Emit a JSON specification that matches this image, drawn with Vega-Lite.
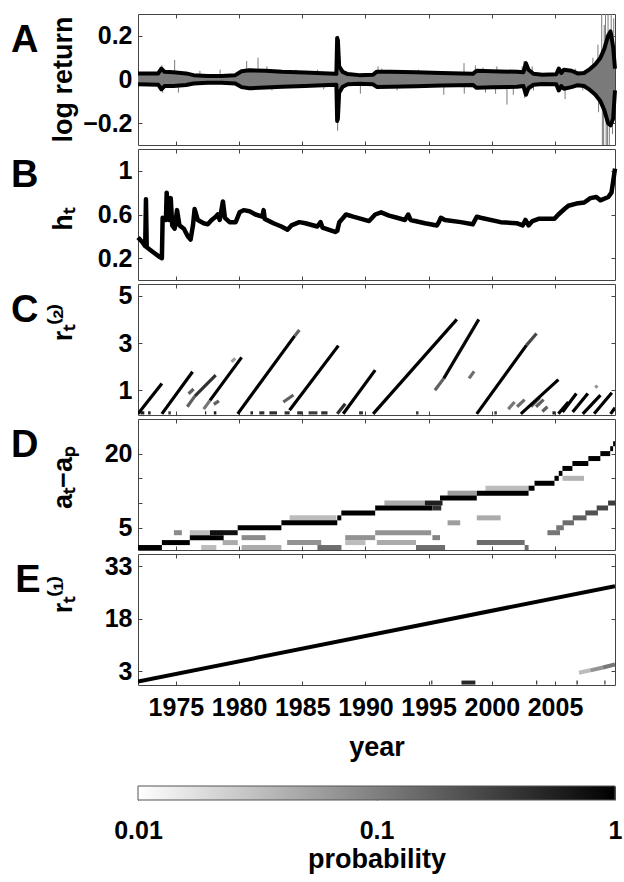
{
"$schema": "https://vega.github.io/schema/vega-lite/v6.json",
"background": "white",
"padding": {"left": 10, "top": 13, "right": 5, "bottom": 5},
"config": {
  "view": {"stroke": "#444", "strokeWidth": 1},
  "axis": {"grid": false, "domain": false, "tickColor": "#444", "tickSize": -4, "labelFont": "Liberation Sans", "labelFontSize": 25, "labelFontWeight": "bold", "labelColor": "black", "titleFont": "Liberation Sans", "titleFontSize": 27, "titleFontWeight": "bold", "titleColor": "black", "labelFlush": false, "minExtent": 0},
  "axisY": {"labelPadding": 10, "titleX": -75, "titleBaseline": "middle", "titleAlign": "center", "titleAngle": -90, "labelExpr": "replace('' + datum.value, '-', '−')"},
  "title": {"font": "Liberation Sans", "fontSize": 38, "fontWeight": "bold", "orient": "left", "anchor": "end", "angle": 0, "baseline": "top", "align": "left", "offset": -17, "dy": 8, "color": "black"}
},
"datasets": {
  "envA": [
    {"t":1972.0,"up":0.027,"lo":-0.022},{"t":1973.6,"up":0.028,"lo":-0.024},{"t":1973.85,"up":0.05,"lo":-0.045},{"t":1974.1,"up":0.035,"lo":-0.03},{"t":1974.8,"up":0.033,"lo":-0.03},{"t":1975.8,"up":0.028,"lo":-0.025},{"t":1976.4,"up":0.02,"lo":-0.018},{"t":1977.5,"up":0.016,"lo":-0.015},{"t":1978.6,"up":0.016,"lo":-0.015},{"t":1979.7,"up":0.02,"lo":-0.018},{"t":1980.2,"up":0.038,"lo":-0.035},{"t":1980.8,"up":0.042,"lo":-0.04},{"t":1982.1,"up":0.04,"lo":-0.037},{"t":1983.4,"up":0.035,"lo":-0.033},{"t":1985.2,"up":0.032,"lo":-0.03},{"t":1987.1,"up":0.027,"lo":-0.025},{"t":1987.7,"up":0.026,"lo":-0.024},{"t":1987.76,"up":0.19,"lo":-0.19},{"t":1987.82,"up":0.18,"lo":-0.18},{"t":1987.92,"up":0.06,"lo":-0.06},{"t":1988.2,"up":0.035,"lo":-0.033},{"t":1988.6,"up":0.025,"lo":-0.022},{"t":1989.5,"up":0.02,"lo":-0.02},{"t":1990.6,"up":0.022,"lo":-0.022},{"t":1990.9,"up":0.036,"lo":-0.034},{"t":1992.0,"up":0.035,"lo":-0.033},{"t":1994.0,"up":0.033,"lo":-0.031},{"t":1996.0,"up":0.03,"lo":-0.028},{"t":1998.5,"up":0.026,"lo":-0.025},{"t":1998.8,"up":0.04,"lo":-0.038},{"t":2000.0,"up":0.038,"lo":-0.036},{"t":2002.0,"up":0.035,"lo":-0.033},{"t":2002.5,"up":0.033,"lo":-0.03},{"t":2002.7,"up":0.075,"lo":-0.07},{"t":2002.9,"up":0.045,"lo":-0.04},{"t":2003.3,"up":0.026,"lo":-0.024},{"t":2004.0,"up":0.022,"lo":-0.021},{"t":2005.1,"up":0.024,"lo":-0.022},{"t":2005.3,"up":0.05,"lo":-0.05},{"t":2005.5,"up":0.03,"lo":-0.03},{"t":2005.7,"up":0.045,"lo":-0.042},{"t":2006.3,"up":0.04,"lo":-0.035},{"t":2006.8,"up":0.028,"lo":-0.026},{"t":2007.3,"up":0.03,"lo":-0.03},{"t":2007.7,"up":0.045,"lo":-0.045},{"t":2008.2,"up":0.07,"lo":-0.07},{"t":2008.6,"up":0.1,"lo":-0.1},{"t":2008.9,"up":0.14,"lo":-0.14},{"t":2009.2,"up":0.2,"lo":-0.2},{"t":2009.4,"up":0.22,"lo":-0.21},{"t":2009.6,"up":0.15,"lo":-0.18},{"t":2009.75,"up":0.05,"lo":-0.05}
  ],
  "spkA": [
    {"t":1973.9,"r":0.065},{"t":1973.95,"r":-0.06},{"t":1974.9,"r":0.09},{"t":1975.2,"r":-0.06},{"t":1976.9,"r":0.04},{"t":1978.5,"r":0.045},{"t":1980.6,"r":0.085},{"t":1981.0,"r":-0.05},{"t":1981.5,"r":0.1},{"t":1982.2,"r":0.06},{"t":1982.6,"r":-0.05},{"t":1984.5,"r":0.045},{"t":1986.2,"r":0.045},{"t":1986.7,"r":-0.045},{"t":1987.8,"r":-0.235},{"t":1987.85,"r":0.2},{"t":1989.6,"r":-0.065},{"t":1991.0,"r":0.06},{"t":1991.3,"r":0.05},{"t":1992.5,"r":-0.05},{"t":1994.2,"r":0.045},{"t":1996.2,"r":-0.07},{"t":1997.8,"r":0.075},{"t":1997.82,"r":-0.065},{"t":1998.7,"r":0.065},{"t":1999.3,"r":0.055},{"t":1999.5,"r":-0.06},{"t":2000.3,"r":-0.065},{"t":2000.4,"r":0.06},{"t":2001.2,"r":-0.115},{"t":2001.7,"r":-0.07},{"t":2002.4,"r":0.06},{"t":2002.55,"r":0.085},{"t":2002.6,"r":-0.085},{"t":2003.2,"r":0.06},{"t":2003.3,"r":-0.05},{"t":2005.8,"r":-0.09},{"t":2006.6,"r":0.05},{"t":2007.2,"r":-0.05},{"t":2008.0,"r":0.1},{"t":2008.4,"r":0.16},{"t":2008.45,"r":-0.15},{"t":2008.7,"r":0.3},{"t":2008.75,"r":-0.3},{"t":2008.85,"r":-0.3},{"t":2008.9,"r":0.25},{"t":2009.0,"r":0.3},{"t":2009.05,"r":-0.3},{"t":2009.15,"r":-0.3},{"t":2009.2,"r":0.3},{"t":2009.3,"r":-0.3},{"t":2009.45,"r":0.3},{"t":2009.55,"r":-0.25},{"t":2009.65,"r":0.28}
  ],
  "hB": [
    {"t":1972.0,"h":0.39},{"t":1972.32,"h":0.35},{"t":1972.57,"h":0.31},{"t":1972.63,"h":0.74},{"t":1972.69,"h":0.3},{"t":1973.26,"h":0.25},{"t":1973.73,"h":0.21},{"t":1973.89,"h":0.2},{"t":1973.95,"h":0.57},{"t":1974.21,"h":0.55},{"t":1974.27,"h":0.8},{"t":1974.46,"h":0.55},{"t":1974.59,"h":0.75},{"t":1974.71,"h":0.5},{"t":1974.9,"h":0.47},{"t":1975.09,"h":0.64},{"t":1975.28,"h":0.5},{"t":1975.63,"h":0.47},{"t":1975.94,"h":0.4},{"t":1976.16,"h":0.37},{"t":1976.35,"h":0.5},{"t":1976.48,"h":0.65},{"t":1976.73,"h":0.55},{"t":1977.2,"h":0.52},{"t":1977.52,"h":0.51},{"t":1977.83,"h":0.55},{"t":1978.15,"h":0.58},{"t":1978.31,"h":0.6},{"t":1978.47,"h":0.55},{"t":1978.72,"h":0.72},{"t":1978.88,"h":0.57},{"t":1979.25,"h":0.53},{"t":1979.73,"h":0.53},{"t":1980.04,"h":0.62},{"t":1980.36,"h":0.64},{"t":1980.83,"h":0.63},{"t":1981.3,"h":0.6},{"t":1981.84,"h":0.58},{"t":1981.94,"h":0.64},{"t":1982.03,"h":0.56},{"t":1982.72,"h":0.52},{"t":1983.35,"h":0.49},{"t":1983.83,"h":0.46},{"t":1984.14,"h":0.5},{"t":1984.77,"h":0.53},{"t":1985.25,"h":0.52},{"t":1986.19,"h":0.49},{"t":1986.45,"h":0.53},{"t":1986.6,"h":0.48},{"t":1987.61,"h":0.44},{"t":1987.77,"h":0.45},{"t":1987.93,"h":0.53},{"t":1988.24,"h":0.57},{"t":1988.46,"h":0.6},{"t":1989.03,"h":0.58},{"t":1990.29,"h":0.54},{"t":1990.77,"h":0.6},{"t":1991.24,"h":0.62},{"t":1991.87,"h":0.59},{"t":1992.5,"h":0.57},{"t":1993.13,"h":0.55},{"t":1993.39,"h":0.6},{"t":1993.57,"h":0.55},{"t":1994.71,"h":0.52},{"t":1995.66,"h":0.5},{"t":1995.81,"h":0.53},{"t":1995.97,"h":0.57},{"t":1996.29,"h":0.55},{"t":1997.55,"h":0.53},{"t":1998.49,"h":0.51},{"t":1998.81,"h":0.58},{"t":1999.12,"h":0.57},{"t":2000.7,"h":0.53},{"t":2001.96,"h":0.52},{"t":2002.44,"h":0.5},{"t":2002.66,"h":0.55},{"t":2002.91,"h":0.5},{"t":2003.22,"h":0.54},{"t":2003.7,"h":0.56},{"t":2004.96,"h":0.56},{"t":2005.27,"h":0.6},{"t":2005.75,"h":0.65},{"t":2006.06,"h":0.68},{"t":2006.69,"h":0.7},{"t":2007.32,"h":0.71},{"t":2007.8,"h":0.75},{"t":2008.27,"h":0.76},{"t":2008.59,"h":0.73},{"t":2009.22,"h":0.76},{"t":2009.47,"h":0.8},{"t":2009.6,"h":0.9},{"t":2009.75,"h":1.02}
  ],
  "segC": [
    {"t0":1972.2,"v0":0.04,"t1":1972.5,"v1":0.04,"p":0.6},{"t0":1972.8,"v0":0.04,"t1":1973.0,"v1":0.04,"p":0.5},{"t0":1974.4,"v0":0.04,"t1":1974.6,"v1":0.04,"p":0.3},{"t0":1977.3,"v0":0.04,"t1":1977.4,"v1":0.04,"p":0.5},{"t0":1978.0,"v0":0.04,"t1":1978.2,"v1":0.04,"p":0.6},{"t0":1980.9,"v0":0.04,"t1":1981.1,"v1":0.04,"p":0.5},{"t0":1981.6,"v0":0.04,"t1":1982.0,"v1":0.04,"p":0.4},{"t0":1982.4,"v0":0.04,"t1":1983.0,"v1":0.04,"p":0.4},{"t0":1983.6,"v0":0.04,"t1":1984.0,"v1":0.04,"p":0.4},{"t0":1984.6,"v0":0.04,"t1":1985.0,"v1":0.04,"p":0.4},{"t0":1985.5,"v0":0.04,"t1":1986.2,"v1":0.04,"p":0.3},{"t0":1986.5,"v0":0.04,"t1":1987.0,"v1":0.04,"p":0.4},{"t0":1989.5,"v0":0.04,"t1":1989.8,"v1":0.04,"p":0.4},{"t0":1994.0,"v0":0.04,"t1":1994.2,"v1":0.04,"p":0.3},{"t0":2000.2,"v0":0.04,"t1":2000.4,"v1":0.04,"p":0.3},{"t0":2004.8,"v0":0.04,"t1":2005.0,"v1":0.04,"p":0.5},
    {"t0":1976.0,"v0":0.85,"t1":1976.4,"v1":1.05,"p":0.15},{"t0":1978.0,"v0":0.4,"t1":1978.4,"v1":0.55,"p":0.15},{"t0":1979.4,"v0":2.2,"t1":1979.7,"v1":2.35,"p":0.05},{"t0":1983.5,"v0":0.5,"t1":1984.3,"v1":0.8,"p":0.15},{"t0":1998.2,"v0":1.5,"t1":1998.6,"v1":1.8,"p":0.12},{"t0":2001.3,"v0":0.2,"t1":2001.8,"v1":0.5,"p":0.1},{"t0":2002.0,"v0":0.3,"t1":2002.6,"v1":0.6,"p":0.12},{"t0":2003.1,"v0":0.3,"t1":2003.8,"v1":0.7,"p":0.15},{"t0":2003.5,"v0":0.3,"t1":2004.1,"v1":0.6,"p":0.15},{"t0":2004.0,"v0":0.1,"t1":2004.4,"v1":0.3,"p":0.15},{"t0":2008.2,"v0":1.1,"t1":2008.35,"v1":1.2,"p":0.06},
    {"t0":1972.0,"v0":0.0,"t1":1973.89,"v1":1.28,"p":1},{"t0":1973.89,"v0":0.0,"t1":1976.32,"v1":1.78,"p":1},{"t0":1975.9,"v0":0.3,"t1":1976.5,"v1":0.75,"p":0.15},{"t0":1976.5,"v0":0.75,"t1":1978.15,"v1":1.64,"p":0.4},{"t0":1977.2,"v0":0.2,"t1":1977.7,"v1":0.57,"p":0.1},{"t0":1977.7,"v0":0.57,"t1":1980.2,"v1":2.39,"p":1},{"t0":1979.89,"v0":0.0,"t1":1984.4,"v1":3.3,"p":1},{"t0":1984.4,"v0":3.3,"t1":1984.77,"v1":3.55,"p":0.15},{"t0":1983.99,"v0":0.15,"t1":1987.86,"v1":2.89,"p":1},{"t0":1987.77,"v0":0.0,"t1":1988.4,"v1":0.43,"p":0.4},{"t0":1988.24,"v0":0.0,"t1":1990.77,"v1":1.85,"p":1},{"t0":1990.61,"v0":0.0,"t1":1997.23,"v1":4.0,"p":1},{"t0":1995.5,"v0":1.0,"t1":1996.2,"v1":1.5,"p":0.15},{"t0":1996.2,"v0":1.5,"t1":1998.97,"v1":4.0,"p":0.9},{"t0":1998.81,"v0":0.0,"t1":2002.75,"v1":2.91,"p":1},{"t0":2002.75,"v0":2.91,"t1":2003.54,"v1":3.4,"p":0.25},{"t0":2002.3,"v0":0.0,"t1":2005.27,"v1":1.45,"p":1},{"t0":2005.27,"v0":0.0,"t1":2006.06,"v1":0.5,"p":1},{"t0":2005.6,"v0":0.08,"t1":2006.69,"v1":0.86,"p":1},{"t0":2006.4,"v0":0.08,"t1":2007.6,"v1":0.86,"p":1},{"t0":2007.2,"v0":0.0,"t1":2008.6,"v1":0.79,"p":1},{"t0":2008.1,"v0":0.0,"t1":2009.5,"v1":0.89,"p":1},{"t0":2009.4,"v0":0.0,"t1":2009.75,"v1":0.26,"p":1}
  ],
  "cellD": [
    {"t0":1976.1,"t1":1977.7,"v":4,"p":0.03},{"t0":1984.0,"t1":1987.7,"v":7,"p":0.03},{"t0":1991.5,"t1":1994.7,"v":10,"p":0.04},{"t0":1996.5,"t1":1998.8,"v":12,"p":0.05},{"t0":1999.5,"t1":2002.9,"v":13,"p":0.03},
    {"t0":1974.84,"t1":1975.47,"v":4,"p":0.07},{"t0":1977.0,"t1":1978.2,"v":1,"p":0.03},{"t0":1978.7,"t1":1979.9,"v":2,"p":0.04},{"t0":1980.2,"t1":1982.1,"v":3,"p":0.07},{"t0":1980.2,"t1":1983.35,"v":1,"p":0.04},{"t0":1983.8,"t1":1986.5,"v":2,"p":0.06},{"t0":1986.2,"t1":1988.1,"v":1,"p":0.12},{"t0":1988.4,"t1":1990.77,"v":3,"p":0.06},{"t0":1988.4,"t1":1990.0,"v":2,"p":0.03},{"t0":1990.77,"t1":1995.2,"v":4,"p":0.06},{"t0":1990.9,"t1":1994.0,"v":2,"p":0.04},{"t0":1994.0,"t1":1996.3,"v":1,"p":0.12},{"t0":1995.3,"t1":1995.9,"v":3,"p":0.08},{"t0":1996.5,"t1":1997.5,"v":6,"p":0.05},{"t0":1998.81,"t1":2000.7,"v":7,"p":0.04},{"t0":1998.81,"t1":2002.6,"v":2,"p":0.12},{"t0":2002.6,"t1":2002.91,"v":1,"p":0.12},{"t0":2004.4,"t1":2005.4,"v":4,"p":0.1},{"t0":2005.1,"t1":2005.7,"v":5,"p":0.1},{"t0":2005.6,"t1":2006.5,"v":6,"p":0.12},{"t0":2006.4,"t1":2007.5,"v":7,"p":0.15},{"t0":2007.4,"t1":2008.4,"v":8,"p":0.2},{"t0":2008.3,"t1":2009.2,"v":9,"p":0.25},{"t0":2009.2,"t1":2009.75,"v":10,"p":0.3},{"t0":2005.6,"t1":2007.3,"v":15,"p":0.035},
    {"t0":1972.0,"t1":1973.89,"v":1,"p":1},{"t0":1973.89,"t1":1976.1,"v":2,"p":1},{"t0":1976.1,"t1":1978.78,"v":3,"p":1},{"t0":1977.7,"t1":1979.89,"v":4,"p":0.8},{"t0":1979.89,"t1":1983.35,"v":5,"p":1},{"t0":1983.35,"t1":1987.77,"v":6,"p":1},{"t0":1987.77,"t1":1988.09,"v":7,"p":1},{"t0":1988.09,"t1":1990.77,"v":8,"p":1},{"t0":1990.77,"t1":1995.3,"v":9,"p":1},{"t0":1994.7,"t1":1996.1,"v":10,"p":0.6},{"t0":1995.3,"t1":1996.0,"v":9,"p":0.4},{"t0":1995.9,"t1":1998.81,"v":11,"p":1},{"t0":1998.81,"t1":2002.91,"v":12,"p":1},{"t0":2002.91,"t1":2003.38,"v":13,"p":1},{"t0":2003.38,"t1":2004.96,"v":14,"p":1},{"t0":2004.96,"t1":2005.3,"v":15,"p":1},{"t0":2005.3,"t1":2005.59,"v":16,"p":1},{"t0":2005.59,"t1":2006.38,"v":17,"p":1},{"t0":2006.38,"t1":2007.64,"v":18,"p":1},{"t0":2007.64,"t1":2008.59,"v":19,"p":1},{"t0":2008.59,"t1":2009.37,"v":20,"p":1},{"t0":2009.37,"t1":2009.6,"v":21,"p":1},{"t0":2009.6,"t1":2009.75,"v":22,"p":1}
  ],
  "segE": [
    {"t0":1995.2,"v0":-0.3,"t1":1995.3,"v1":-0.3,"p":0.3},{"t0":1997.6,"v0":-0.3,"t1":1998.7,"v1":-0.3,"p":0.5},{"t0":2003.5,"v0":-0.3,"t1":2003.6,"v1":-0.3,"p":0.3},{"t0":2006.7,"v0":-0.3,"t1":2006.8,"v1":-0.3,"p":0.5},{"t0":2008.9,"v0":-0.3,"t1":2009.0,"v1":-0.3,"p":0.3},
    {"t0":2006.9,"v0":2.5,"t1":2007.8,"v1":3.2,"p":0.03},{"t0":2007.8,"v0":3.2,"t1":2008.8,"v1":4.0,"p":0.06},{"t0":2008.8,"v0":4.0,"t1":2009.75,"v1":4.9,"p":0.1},
    {"t0":1972.0,"v0":0.0,"t1":2009.75,"v1":27.3,"p":1}
  ],
  "bar": [{"lo": 0.01, "hi": 1}]
},
"spacing": 24,
"vconcat": [
  {
    "spacing": 2,
    "vconcat": [
      {
        "width": 477, "height": 131,
        "title": {"text": "A"},
        "resolve": {"axis": {"x": "independent", "y": "independent"}},
        "layer": [
          {
            "encoding": {"x": {"field": "t", "type": "quantitative", "scale": {"domain": [1972, 2009.75], "nice": false, "zero": false}, "axis": {"values": [1975,1980,1985,1990,1995,2000,2005], "labels": false, "title": null}}},
            "layer": [
              {"data": {"name": "spkA"}, "mark": {"type": "rule", "color": "#7a7a7a", "strokeWidth": 1, "clip": true},
               "encoding": {"y": {"field": "r", "type": "quantitative", "scale": {"domain": [-0.3, 0.3], "nice": false}, "axis": {"values": [-0.2, 0, 0.2], "title": "log return", "titleY": 65}}, "y2": {"datum": 0}}},
              {"data": {"name": "envA"}, "mark": {"type": "area", "color": "#7a7a7a"},
               "encoding": {"y": {"field": "up", "type": "quantitative", "axis": {"values": [-0.2, 0, 0.2], "title": "log return", "titleY": 65}}, "y2": {"field": "lo"}}},
              {"data": {"name": "envA"}, "mark": {"type": "line", "color": "black", "strokeWidth": 4, "strokeJoin": "round"},
               "encoding": {"y": {"field": "up", "type": "quantitative", "axis": {"values": [-0.2, 0, 0.2], "title": "log return", "titleY": 65}}}},
              {"data": {"name": "envA"}, "mark": {"type": "line", "color": "black", "strokeWidth": 4, "strokeJoin": "round"},
               "encoding": {"y": {"field": "lo", "type": "quantitative", "axis": {"values": [-0.2, 0, 0.2], "title": "log return", "titleY": 65}}}}
            ]
          },
          {"data": {"name": "envA"}, "mark": {"type": "line", "opacity": 0},
           "encoding": {"x": {"field": "t", "type": "quantitative", "axis": {"orient": "top", "values": [1975,1980,1985,1990,1995,2000,2005], "labels": false, "title": null}},
                        "y": {"field": "up", "type": "quantitative", "axis": {"orient": "right", "values": [-0.2, 0, 0.2], "labels": false, "title": null}}}}
        ]
      },
      {
        "width": 477, "height": 131,
        "title": {"text": "B"},
        "data": {"name": "hB"},
        "resolve": {"axis": {"x": "independent", "y": "independent"}},
        "layer": [
          {"mark": {"type": "line", "color": "black", "strokeWidth": 4.5, "strokeJoin": "round"},
           "encoding": {
             "x": {"field": "t", "type": "quantitative", "scale": {"domain": [1972, 2009.75], "nice": false, "zero": false}, "axis": {"values": [1975,1980,1985,1990,1995,2000,2005], "labels": false, "title": null}},
             "y": {"field": "h", "type": "quantitative", "scale": {"domain": [0, 1.2], "nice": false}, "axis": {"values": [0.2, 0.6, 1], "title": "hₜ", "titleY": 70}}}},
          {"mark": {"type": "line", "opacity": 0},
           "encoding": {
             "x": {"field": "t", "type": "quantitative", "axis": {"orient": "top", "values": [1975,1980,1985,1990,1995,2000,2005], "labels": false, "title": null}},
             "y": {"field": "h", "type": "quantitative", "axis": {"orient": "right", "values": [0.2, 0.6, 1], "labels": false, "title": null}}}}
        ]
      },
      {
        "width": 477, "height": 131,
        "title": {"text": "C"},
        "data": {"name": "segC"},
        "resolve": {"axis": {"x": "independent", "y": "independent"}},
        "layer": [
          {"mark": {"type": "rule", "strokeWidth": 3.2, "strokeCap": "butt", "clip": true},
           "encoding": {
             "x": {"field": "t0", "type": "quantitative", "scale": {"domain": [1972, 2009.75], "nice": false, "zero": false}, "axis": {"values": [1975,1980,1985,1990,1995,2000,2005], "labels": false, "title": null}},
             "x2": {"field": "t1"},
             "y": {"field": "v0", "type": "quantitative", "scale": {"domain": [-0.05, 5.5], "nice": false, "zero": false}, "axis": {"values": [1, 3, 5], "title": "rₜ⁽²⁾", "titleY": 38}},
             "y2": {"field": "v1"},
             "color": {"field": "p", "type": "quantitative", "scale": {"type": "log", "domain": [0.01, 1], "range": ["#ffffff", "#000000"], "clamp": true}, "legend": null}}},
          {"mark": {"type": "rule", "opacity": 0},
           "encoding": {
             "x": {"field": "t0", "type": "quantitative", "axis": {"orient": "top", "values": [1975,1980,1985,1990,1995,2000,2005], "labels": false, "title": null}},
             "y": {"field": "v0", "type": "quantitative", "axis": {"orient": "right", "values": [1, 3, 5], "labels": false, "title": null}}}}
        ]
      },
      {
        "width": 477, "height": 131,
        "title": {"text": "D"},
        "data": {"name": "cellD"},
        "resolve": {"axis": {"x": "independent", "y": "independent"}},
        "layer": [
          {"mark": {"type": "rule", "strokeWidth": 5, "strokeCap": "butt", "clip": true},
           "encoding": {
             "x": {"field": "t0", "type": "quantitative", "scale": {"domain": [1972, 2009.75], "nice": false, "zero": false}, "axis": {"values": [1975,1980,1985,1990,1995,2000,2005], "labels": false, "title": null}},
             "x2": {"field": "t1"},
             "y": {"field": "v", "type": "quantitative", "scale": {"domain": [0.5, 27], "nice": false, "zero": false}, "axis": {"values": [5, 10, 15, 20], "title": "aₜ−aₚ", "titleY": 58}},
             "color": {"field": "p", "type": "quantitative", "scale": {"type": "log", "domain": [0.01, 1], "range": ["#ffffff", "#000000"], "clamp": true}, "legend": null}}},
          {"mark": {"type": "rule", "opacity": 0},
           "encoding": {
             "x": {"field": "t0", "type": "quantitative", "axis": {"orient": "top", "values": [1975,1980,1985,1990,1995,2000,2005], "labels": false, "title": null}},
             "y": {"field": "v", "type": "quantitative", "axis": {"orient": "right", "values": [5, 10, 15, 20], "labels": false, "title": null}}}}
        ]
      },
      {
        "width": 477, "height": 131,
        "title": {"text": "E"},
        "data": {"name": "segE"},
        "resolve": {"axis": {"x": "independent", "y": "independent"}},
        "layer": [
          {"mark": {"type": "rule", "strokeWidth": 4, "strokeCap": "butt", "clip": true},
           "encoding": {
             "x": {"field": "t0", "type": "quantitative", "scale": {"domain": [1972, 2009.75], "nice": false, "zero": false}, "axis": {"values": [1975,1980,1985,1990,1995,2000,2005], "format": "d", "title": "year", "labelPadding": 14, "titlePadding": 14}},
             "x2": {"field": "t1"},
             "y": {"field": "v0", "type": "quantitative", "scale": {"domain": [-1, 36.5], "nice": false, "zero": false}, "axis": {"values": [3, 18, 33], "title": "rₜ⁽¹⁾", "titleY": 40}},
             "y2": {"field": "v1"},
             "color": {"field": "p", "type": "quantitative", "scale": {"type": "log", "domain": [0.01, 1], "range": ["#ffffff", "#000000"], "clamp": true}, "legend": null}}},
          {"mark": {"type": "rule", "opacity": 0},
           "encoding": {
             "x": {"field": "t0", "type": "quantitative", "axis": {"orient": "top", "values": [1975,1980,1985,1990,1995,2000,2005], "labels": false, "title": null}},
             "y": {"field": "v0", "type": "quantitative", "axis": {"orient": "right", "values": [3, 18, 33], "labels": false, "title": null}}}}
        ]
      }
    ]
  },
  {
    "width": 477, "height": 14,
    "view": {"stroke": null},
    "data": {"name": "bar"},
    "mark": {"type": "rect", "stroke": "#555", "strokeWidth": 1, "color": {"gradient": "linear", "x1": 0, "x2": 1, "y1": 0, "y2": 0, "stops": [{"offset": 0, "color": "#ffffff"}, {"offset": 1, "color": "#000000"}]}},
    "encoding": {
      "x": {"field": "lo", "type": "quantitative", "scale": {"type": "log", "domain": [0.01, 1], "nice": false}, "axis": {"values": [0.01, 0.1, 1], "labelExpr": "'' + datum.value", "title": "probability", "labelPadding": 32, "titlePadding": 3, "tickSize": -14}},
      "x2": {"field": "hi"}
    }
  }
]
}
